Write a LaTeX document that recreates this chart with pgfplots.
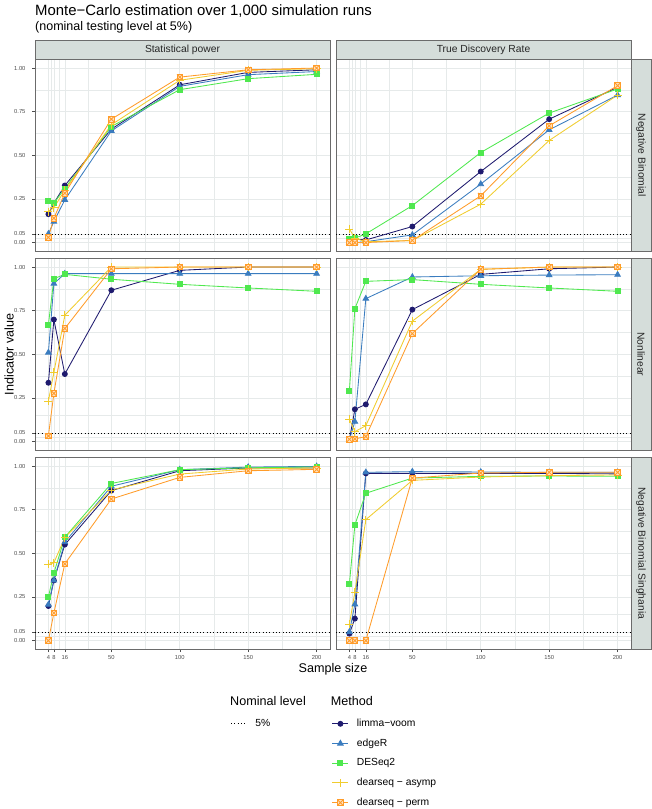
\documentclass[border=0pt]{standalone}
\usepackage{pgfplots}
\pgfplotsset{compat=1.18}
\usepackage{pgfplotstable}
\usepackage{fontspec}
\setmainfont{Liberation Sans}

\definecolor{limc}{HTML}{1E1A6E}
\definecolor{edgc}{HTML}{3A7CBF}
\definecolor{desc}{HTML}{4FE84F}
\definecolor{asyc}{HTML}{F0CC2E}
\definecolor{perc}{HTML}{FF9C2A}
\definecolor{gridc}{HTML}{E6EAEA}
\definecolor{borderc}{HTML}{6B6B6B}
\definecolor{stripc}{HTML}{D5DDDA}
\definecolor{labc}{HTML}{4D4D4D}

\pgfdeclareplotmark{boxx}{%
  \pgfpathrectangle{\pgfqpoint{-\pgfplotmarksize}{-\pgfplotmarksize}}{\pgfqpoint{2\pgfplotmarksize}{2\pgfplotmarksize}}%
  \pgfusepathqfillstroke
  \pgfpathmoveto{\pgfqpoint{-\pgfplotmarksize}{-\pgfplotmarksize}}%
  \pgfpathlineto{\pgfqpoint{\pgfplotmarksize}{\pgfplotmarksize}}%
  \pgfpathmoveto{\pgfqpoint{-\pgfplotmarksize}{\pgfplotmarksize}}%
  \pgfpathlineto{\pgfqpoint{\pgfplotmarksize}{-\pgfplotmarksize}}%
  \pgfusepathqstroke}

% columns: x, limma-voom, edgeR, DESeq2, dearseq-asymp, dearseq-perm
\pgfplotstableread{
x   lim   edg   des   asy   per
4   0.163 0.050 0.237 0.178 0.030
8   0.226 0.120 0.226 0.200 0.140
16  0.327 0.245 0.310 0.300 0.283
50  0.650 0.640 0.665 0.675 0.707
100 0.904 0.895 0.876 0.930 0.948
150 0.975 0.962 0.939 0.987 0.990
200 0.990 0.980 0.964 0.996 1.000
}\tabAA
\pgfplotstableread{
x   lim   edg   des   asy   per
4   0.006 0.000 0.020 0.078 0.000
8   0.020 0.000 0.025 0.025 0.000
16  0.015 0.005 0.050 0.005 0.000
50  0.092 0.044 0.212 0.012 0.012
100 0.407 0.335 0.516 0.220 0.268
150 0.707 0.646 0.742 0.585 0.669
200 0.890 0.845 0.880 0.845 0.899
}\tabAB
\pgfplotstableread{
x   lim   edg   des   asy   per
4   0.337 0.510 0.669 0.232 0.032
8   0.699 0.905 0.933 0.396 0.276
16  0.387 0.962 0.958 0.724 0.648
50  0.867 0.962 0.930 1.000 0.990
100 0.981 0.962 0.901 1.000 1.000
150 1.000 0.962 0.880 1.000 1.000
200 1.000 0.962 0.861 1.000 1.000
}\tabBA
\pgfplotstableread{
x   lim   edg   des   asy   per
4   0.010 0.010 0.293 0.128 0.013
8   0.185 0.114 0.762 0.057 0.015
16  0.213 0.819 0.918 0.091 0.029
50  0.756 0.943 0.928 0.690 0.619
100 0.958 0.950 0.901 0.987 0.987
150 0.990 0.954 0.880 1.000 1.000
200 1.000 0.956 0.861 1.000 1.000
}\tabBB
\pgfplotstableread{
x   lim   edg   des   asy   per
4   0.198 0.206 0.250 0.436 0.000
8   0.345 0.345 0.387 0.446 0.158
16  0.550 0.564 0.592 0.590 0.440
50  0.859 0.884 0.900 0.863 0.811
100 0.973 0.979 0.979 0.954 0.935
150 0.989 0.994 0.990 0.983 0.973
200 0.989 0.998 0.995 0.989 0.981
}\tabCA
\pgfplotstableread{
x   lim   edg   des   asy   per
4   0.040 0.050 0.326 0.093 0.000
8   0.126 0.208 0.663 0.278 0.000
16  0.958 0.964 0.844 0.693 0.000
50  0.958 0.968 0.931 0.918 0.931
100 0.958 0.966 0.941 0.937 0.960
150 0.958 0.964 0.943 0.945 0.964
200 0.955 0.964 0.941 0.949 0.964
}\tabCB

\pgfplotsset{
  panel/.style={
    scale only axis, width=295pt, height=192pt, anchor=north west,
    xmin=-5.8, xmax=209.8, ymin=-0.05, ymax=1.05,
    xtick={4,8,16,50,100,150,200}, ytick={0,0.05,0.25,0.5,0.75,1},
    xticklabels={4,8,16,50,100,150,200},
    yticklabels={0.00,0.05,0.25,0.50,0.75,1.00},
    minor xtick={6,12,33,75,125,175}, minor ytick={0.025,0.15,0.375,0.625,0.875},
    grid=both,
    major grid style={draw=gridc, line width=0.6pt},
    minor grid style={draw=gridc, line width=0.3pt},
    axis line style={draw=borderc, line width=0.7pt},
    tick align=outside, major tick length=2.8pt, minor tick length=0pt,
    tick style={draw=labc, line width=0.5pt},
    xtick pos=bottom, ytick pos=left,
    ticklabel style={font=\fontsize{5.8}{6}\selectfont, text=labc},
    yticklabel style={xshift=-3.2pt},
  },
  innerx/.style={xticklabels={}, xtick style={draw=none}},
  innery/.style={yticklabels={}, ytick style={draw=none}},
  limst/.style={color=limc, line width=0.85pt, mark=*, mark size=2.5pt, mark options={solid, fill=limc}},
  edgst/.style={color=edgc, line width=0.85pt, mark=triangle*, mark size=3.2pt, mark options={solid, fill=edgc}},
  desst/.style={color=desc, line width=0.85pt, mark=square*, mark size=2.5pt, mark options={solid, fill=desc}},
  asyst/.style={color=asyc, line width=0.85pt, mark=+, mark size=4pt, mark options={solid}},
  perst/.style={color=perc, line width=0.85pt, mark=boxx, mark size=2.8pt, mark options={solid, fill=perc!30}},
  nomst/.style={color=black, line width=0.7pt, dash pattern=on 0.7pt off 2.6pt},
  legbase/.style={
    legend style={draw=none, fill=none, inner sep=0pt, outer sep=0pt, anchor=north west,
      font=\fontsize{10.3}{12}\selectfont, row sep=10.1pt, column sep=8pt,
      nodes={inner sep=0pt, text height=7.4pt, text depth=2.2pt}},
    legend cell align=left,
    legend image code/.code={\draw[mark repeat=2, mark phase=2, ##1] plot coordinates {(0pt,0pt) (8pt,0pt) (16pt,0pt)};},
  },
}

\newcommand{\series}[1]{%
  \addplot[limst] table[x=x,y=lim]{#1};
  \addplot[edgst] table[x=x,y=edg]{#1};
  \addplot[desst] table[x=x,y=des]{#1};
  \addplot[asyst] table[x=x,y=asy]{#1};
  \addplot[perst] table[x=x,y=per]{#1};
}
\newcommand{\nomline}{\addplot[nomst, forget plot] coordinates {(-5.8,0.05) (209.8,0.05)};}

\begin{document}
\begin{tikzpicture}
\useasboundingbox (0,0) rectangle (652pt,-809pt);

% titles
\node[anchor=base west, inner sep=0pt, font=\fontsize{14.9}{16}\selectfont] at (35pt,-15.3pt) {Monte−Carlo estimation over 1,000 simulation runs};
\node[anchor=base west, inner sep=0pt, font=\fontsize{12.5}{14}\selectfont] at (35pt,-30.7pt) {(nominal testing level at 5\%)};

% strips (top)
\draw[fill=stripc, draw=borderc, line width=0.7pt] (35pt,-40pt) rectangle (330pt,-59.3pt);
\draw[fill=stripc, draw=borderc, line width=0.7pt] (336pt,-40pt) rectangle (631pt,-59.3pt);
\node[font=\fontsize{10.3}{12}\selectfont, text=black!85] at (182.5pt,-49.7pt) {Statistical power};
\node[font=\fontsize{10.3}{12}\selectfont, text=black!85] at (483.5pt,-49.7pt) {True Discovery Rate};
% strips (right)
\draw[fill=stripc, draw=borderc, line width=0.7pt] (631pt,-59.3pt) rectangle (651pt,-251.3pt);
\draw[fill=stripc, draw=borderc, line width=0.7pt] (631pt,-258.3pt) rectangle (651pt,-450.3pt);
\draw[fill=stripc, draw=borderc, line width=0.7pt] (631pt,-457.3pt) rectangle (651pt,-649.3pt);
\node[rotate=-90, font=\fontsize{10.3}{12}\selectfont, text=black!85] at (641pt,-155.3pt) {Negative Binomial};
\node[rotate=-90, font=\fontsize{10.3}{12}\selectfont, text=black!85] at (641pt,-354.3pt) {Nonlinear};
\node[rotate=-90, font=\fontsize{10.3}{12}\selectfont, text=black!85] at (641pt,-553.3pt) {Negative Binomial Singhania};

% row 1
\begin{axis}[panel, innerx, at={(35pt,-59.3pt)}]
\nomline
\series{\tabAA}
\end{axis}
\begin{axis}[panel, innerx, innery, at={(336pt,-59.3pt)}]
\nomline
\series{\tabAB}
\end{axis}
% row 2
\begin{axis}[panel, innerx, at={(35pt,-258.3pt)}]
\nomline
\series{\tabBA}
\end{axis}
\begin{axis}[panel, innerx, innery, at={(336pt,-258.3pt)}]
\nomline
\series{\tabBB}
\end{axis}
% row 3
\begin{axis}[panel, legbase, at={(35pt,-457.3pt)}, legend style={at={(0.6634,-0.363)}}]
\addplot[nomst] coordinates {(-5.8,0.05) (209.8,0.05)};
\addlegendentry{5\%}
\addplot[limst, forget plot] table[x=x,y=lim]{\tabCA};
\addplot[edgst, forget plot] table[x=x,y=edg]{\tabCA};
\addplot[desst, forget plot] table[x=x,y=des]{\tabCA};
\addplot[asyst, forget plot] table[x=x,y=asy]{\tabCA};
\addplot[perst, forget plot] table[x=x,y=per]{\tabCA};
\end{axis}
\begin{axis}[panel, innery, legbase, at={(336pt,-457.3pt)}, legend style={at={(-0.0136,-0.363)}}]
\series{\tabCB}
\addlegendentry{limma−voom}
\addlegendentry{edgeR}
\addlegendentry{DESeq2}
\addlegendentry{dearseq − asymp}
\addlegendentry{dearseq − perm}
\nomline
\end{axis}

% axis titles
\node[rotate=90, font=\fontsize{12.6}{14}\selectfont] at (9pt,-354.3pt) {Indicator value};
\node[anchor=base, inner sep=0pt, font=\fontsize{12.6}{14}\selectfont] at (333pt,-672.7pt) {Sample size};
% legend titles
\node[anchor=west, inner sep=0pt, font=\fontsize{12.6}{14}\selectfont] at (230pt,-700.7pt) {Nominal level};
\node[anchor=west, inner sep=0pt, font=\fontsize{12.6}{14}\selectfont] at (330.7pt,-700.7pt) {Method};
\end{tikzpicture}
\end{document}
